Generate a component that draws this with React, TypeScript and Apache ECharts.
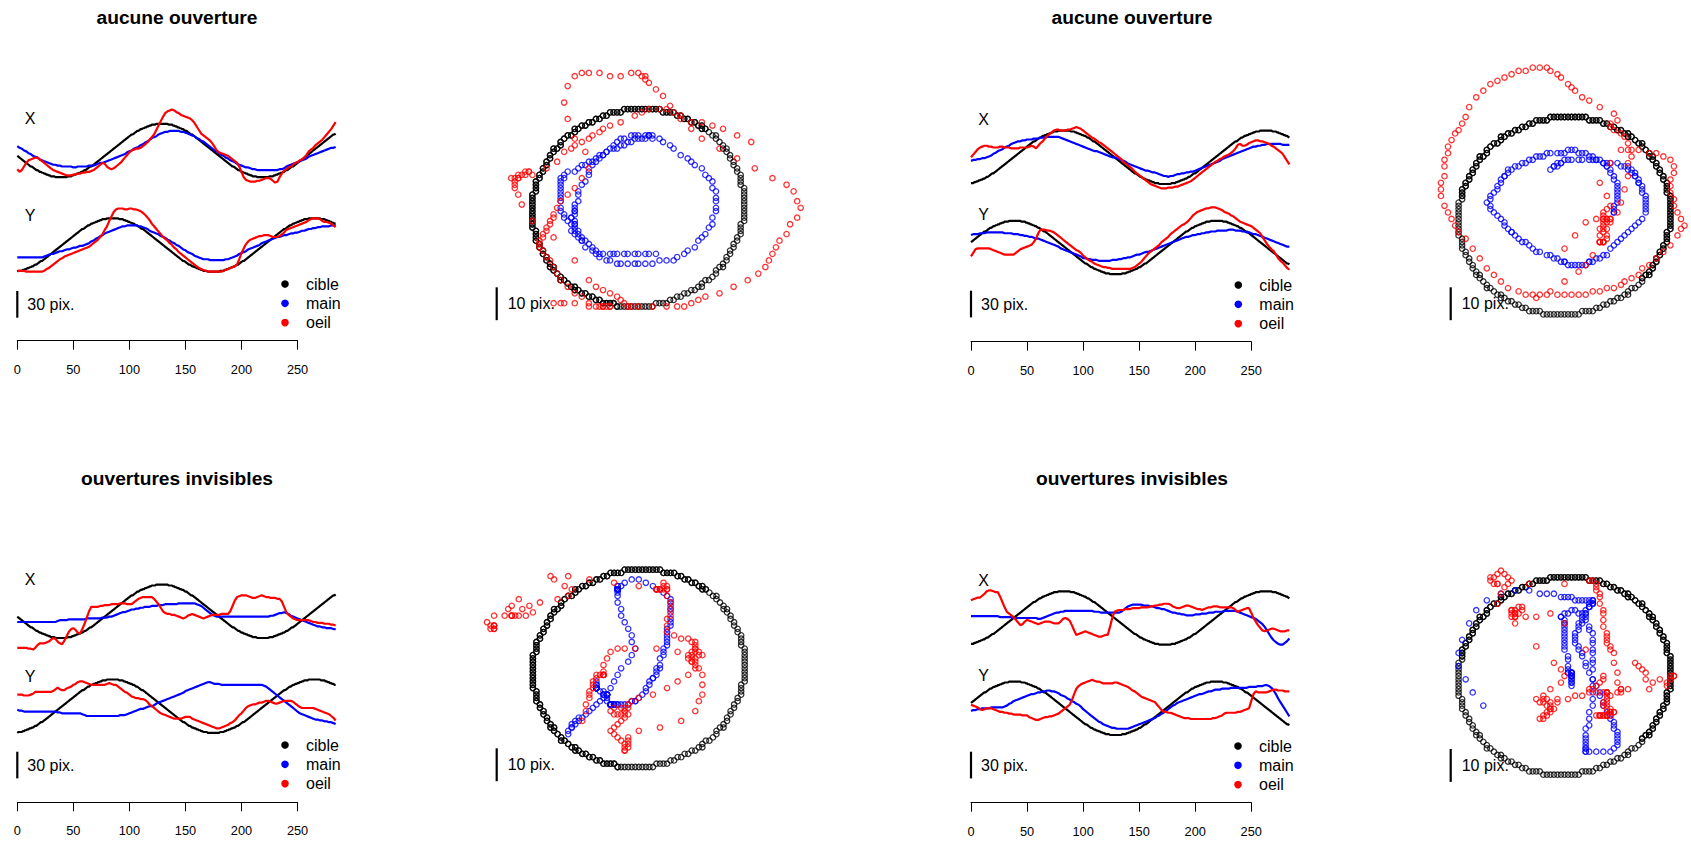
import React, { useEffect, useRef } from "react";
import * as echarts from "echarts";

// ---------- data (positions in screen pixels, "pix.") ----------

// even frame indices (hand and eye samples, target even frames)
const FRAMES = [
  0, 2, 4, 6, 8, 10, 12, 14, 16, 18,
  20, 22, 24, 26, 28, 30, 32, 34, 36, 38,
  40, 42, 44, 46, 48, 50, 52, 54, 56, 58,
  60, 62, 64, 66, 68, 70, 72, 74, 76, 78,
  80, 82, 84, 86, 88, 90, 92, 94, 96, 98,
  100, 102, 104, 106, 108, 110, 112, 114, 116, 118,
  120, 122, 124, 126, 128, 130, 132, 134, 136, 138,
  140, 142, 144, 146, 148, 150, 152, 154, 156, 158,
  160, 162, 164, 166, 168, 170, 172, 174, 176, 178,
  180, 182, 184, 186, 188, 190, 192, 194, 196, 198,
  200, 202, 204, 206, 208, 210, 212, 214, 216, 218,
  220, 222, 224, 226, 228, 230, 232, 234, 236, 238,
  240, 242, 244, 246, 248, 250, 252, 254, 256, 258,
  260, 262, 264, 266, 268, 270, 272, 274, 276, 278,
  280, 282, 284,
];

// odd frame indices (target only)
const ODD_FRAMES = [
  1, 3, 5, 7, 9, 11, 13, 15, 17, 19,
  21, 23, 25, 27, 29, 31, 33, 35, 37, 39,
  41, 43, 45, 47, 49, 51, 53, 55, 57, 59,
  61, 63, 65, 67, 69, 71, 73, 75, 77, 79,
  81, 83, 85, 87, 89, 91, 93, 95, 97, 99,
  101, 103, 105, 107, 109, 111, 113, 115, 117, 119,
  121, 123, 125, 127, 129, 131, 133, 135, 137, 139,
  141, 143, 145, 147, 149, 151, 153, 155, 157, 159,
  161, 163, 165, 167, 169, 171, 173, 175, 177, 179,
  181, 183, 185, 187, 189, 191, 193, 195, 197, 199,
  201, 203, 205, 207, 209, 211, 213, 215, 217, 219,
  221, 223, 225, 227, 229, 231, 233, 235, 237, 239,
  241, 243, 245, 247, 249, 251, 253, 255, 257, 259,
  261, 263, 265, 267, 269, 271, 273, 275, 277, 279,
  281, 283,
];

// target ("cible"), left column sessions
const CIBLE_A_X = [
  -6, -8, -10, -12, -14, -16, -18, -19, -21, -22,
  -24, -25, -26, -27, -28, -29, -29, -30, -30, -30,
  -30, -30, -30, -29, -29, -28, -27, -26, -25, -24,
  -22, -21, -19, -18, -16, -14, -12, -10, -8, -6,
  -4, -2, 0, 2, 4, 6, 8, 10, 12, 14,
  16, 18, 19, 21, 22, 24, 25, 26, 27, 28,
  29, 29, 30, 30, 30, 30, 30, 30, 29, 29,
  28, 27, 26, 25, 24, 22, 21, 19, 18, 16,
  14, 12, 10, 8, 6, 4, 2, 0, -2, -4,
  -6, -8, -10, -12, -14, -16, -18, -19, -21, -22,
  -24, -25, -26, -27, -28, -29, -29, -30, -30, -30,
  -30, -30, -30, -29, -29, -28, -27, -26, -25, -24,
  -22, -21, -19, -18, -16, -14, -12, -10, -8, -6,
  -4, -2, 0, 2, 4, 6, 8, 10, 12, 14,
  16, 18, 19,
];
const CIBLE_A_X_ODD = [
  -7, -9, -11, -13, -15, -17, -18, -20, -22, -23,
  -24, -25, -26, -27, -28, -29, -29, -30, -30, -30,
  -30, -30, -29, -29, -28, -27, -26, -25, -24, -23,
  -22, -20, -18, -17, -15, -13, -11, -9, -7, -5,
  -3, -1, 1, 3, 5, 7, 9, 11, 13, 15,
  17, 18, 20, 22, 23, 24, 25, 26, 27, 28,
  29, 29, 30, 30, 30, 30, 30, 29, 29, 28,
  27, 26, 25, 24, 23, 22, 20, 18, 17, 15,
  13, 11, 9, 7, 5, 3, 1, -1, -3, -5,
  -7, -9, -11, -13, -15, -17, -18, -20, -22, -23,
  -24, -25, -26, -27, -28, -29, -29, -30, -30, -30,
  -30, -30, -29, -29, -28, -27, -26, -25, -24, -23,
  -22, -20, -18, -17, -15, -13, -11, -9, -7, -5,
  -3, -1, 1, 3, 5, 7, 9, 11, 13, 15,
  17, 18,
];
const CIBLE_A_Y = [
  -30, -29, -29, -28, -27, -26, -25, -24, -22, -21,
  -19, -18, -16, -14, -12, -10, -8, -6, -4, -2,
  0, 2, 4, 6, 8, 10, 12, 14, 16, 18,
  19, 21, 22, 24, 25, 26, 27, 28, 29, 29,
  30, 30, 30, 30, 30, 30, 29, 29, 28, 27,
  26, 25, 24, 22, 21, 19, 18, 16, 14, 12,
  10, 8, 6, 4, 2, 0, -2, -4, -6, -8,
  -10, -12, -14, -16, -18, -19, -21, -22, -24, -25,
  -26, -27, -28, -29, -29, -30, -30, -30, -30, -30,
  -30, -29, -29, -28, -27, -26, -25, -24, -22, -21,
  -19, -18, -16, -14, -12, -10, -8, -6, -4, -2,
  0, 2, 4, 6, 8, 10, 12, 14, 16, 18,
  19, 21, 22, 24, 25, 26, 27, 28, 29, 29,
  30, 30, 30, 30, 30, 30, 29, 29, 28, 27,
  26, 25, 24,
];
const CIBLE_A_Y_ODD = [
  -29, -29, -28, -27, -26, -25, -24, -23, -22, -20,
  -18, -17, -15, -13, -11, -9, -7, -5, -3, -1,
  1, 3, 5, 7, 9, 11, 13, 15, 17, 18,
  20, 22, 23, 24, 25, 26, 27, 28, 29, 29,
  30, 30, 30, 30, 30, 29, 29, 28, 27, 26,
  25, 24, 23, 22, 20, 18, 17, 15, 13, 11,
  9, 7, 5, 3, 1, -1, -3, -5, -7, -9,
  -11, -13, -15, -17, -18, -20, -22, -23, -24, -25,
  -26, -27, -28, -29, -29, -30, -30, -30, -30, -30,
  -29, -29, -28, -27, -26, -25, -24, -23, -22, -20,
  -18, -17, -15, -13, -11, -9, -7, -5, -3, -1,
  1, 3, 5, 7, 9, 11, 13, 15, 17, 18,
  20, 22, 23, 24, 25, 26, 27, 28, 29, 29,
  30, 30, 30, 30, 30, 29, 29, 28, 27, 26,
  25, 24,
];

// target ("cible"), right column sessions
const CIBLE_B_X = [
  -29, -29, -28, -27, -26, -25, -24, -22, -21, -19,
  -18, -16, -14, -12, -10, -8, -6, -4, -2, 0,
  2, 4, 6, 8, 10, 12, 14, 16, 18, 19,
  21, 22, 24, 25, 26, 27, 28, 29, 29, 30,
  30, 30, 30, 30, 30, 29, 29, 28, 27, 26,
  25, 24, 22, 21, 19, 18, 16, 14, 12, 10,
  8, 6, 4, 2, 0, -2, -4, -6, -8, -10,
  -12, -14, -16, -18, -19, -21, -22, -24, -25, -26,
  -27, -28, -29, -29, -30, -30, -30, -30, -30, -30,
  -29, -29, -28, -27, -26, -25, -24, -22, -21, -19,
  -18, -16, -14, -12, -10, -8, -6, -4, -2, 0,
  2, 4, 6, 8, 10, 12, 14, 16, 18, 19,
  21, 22, 24, 25, 26, 27, 28, 29, 29, 30,
  30, 30, 30, 30, 30, 29, 29, 28, 27, 26,
  25, 24, 22,
];
const CIBLE_B_X_ODD = [
  -29, -28, -27, -26, -25, -24, -23, -22, -20, -18,
  -17, -15, -13, -11, -9, -7, -5, -3, -1, 1,
  3, 5, 7, 9, 11, 13, 15, 17, 18, 20,
  22, 23, 24, 25, 26, 27, 28, 29, 29, 30,
  30, 30, 30, 30, 29, 29, 28, 27, 26, 25,
  24, 23, 22, 20, 18, 17, 15, 13, 11, 9,
  7, 5, 3, 1, -1, -3, -5, -7, -9, -11,
  -13, -15, -17, -18, -20, -22, -23, -24, -25, -26,
  -27, -28, -29, -29, -30, -30, -30, -30, -30, -29,
  -29, -28, -27, -26, -25, -24, -23, -22, -20, -18,
  -17, -15, -13, -11, -9, -7, -5, -3, -1, 1,
  3, 5, 7, 9, 11, 13, 15, 17, 18, 20,
  22, 23, 24, 25, 26, 27, 28, 29, 29, 30,
  30, 30, 30, 30, 29, 29, 28, 27, 26, 25,
  24, 23,
];
const CIBLE_B_Y = [
  6, 8, 10, 12, 14, 16, 18, 19, 21, 22,
  24, 25, 26, 27, 28, 29, 29, 30, 30, 30,
  30, 30, 30, 29, 29, 28, 27, 26, 25, 24,
  22, 21, 19, 18, 16, 14, 12, 10, 8, 6,
  4, 2, 0, -2, -4, -6, -8, -10, -12, -14,
  -16, -18, -19, -21, -22, -24, -25, -26, -27, -28,
  -29, -29, -30, -30, -30, -30, -30, -30, -29, -29,
  -28, -27, -26, -25, -24, -22, -21, -19, -18, -16,
  -14, -12, -10, -8, -6, -4, -2, 0, 2, 4,
  6, 8, 10, 12, 14, 16, 18, 19, 21, 22,
  24, 25, 26, 27, 28, 29, 29, 30, 30, 30,
  30, 30, 30, 29, 29, 28, 27, 26, 25, 24,
  22, 21, 19, 18, 16, 14, 12, 10, 8, 6,
  4, 2, 0, -2, -4, -6, -8, -10, -12, -14,
  -16, -18, -19,
];
const CIBLE_B_Y_ODD = [
  7, 9, 11, 13, 15, 17, 18, 20, 22, 23,
  24, 25, 26, 27, 28, 29, 29, 30, 30, 30,
  30, 30, 29, 29, 28, 27, 26, 25, 24, 23,
  22, 20, 18, 17, 15, 13, 11, 9, 7, 5,
  3, 1, -1, -3, -5, -7, -9, -11, -13, -15,
  -17, -18, -20, -22, -23, -24, -25, -26, -27, -28,
  -29, -29, -30, -30, -30, -30, -30, -29, -29, -28,
  -27, -26, -25, -24, -23, -22, -20, -18, -17, -15,
  -13, -11, -9, -7, -5, -3, -1, 1, 3, 5,
  7, 9, 11, 13, 15, 17, 18, 20, 22, 23,
  24, 25, 26, 27, 28, 29, 29, 30, 30, 30,
  30, 30, 29, 29, 28, 27, 26, 25, 24, 23,
  22, 20, 18, 17, 15, 13, 11, 9, 7, 5,
  3, 1, -1, -3, -5, -7, -9, -11, -13, -15,
  -17, -18,
];

// session 1: aucune ouverture (left)
const S1_MAIN_X = [
  5, 3, 2, 0, -1, -3, -4, -6, -7, -8,
  -10, -11, -12, -13, -14, -15, -16, -16, -17, -17,
  -18, -18, -18, -18, -18, -19, -19, -18, -18, -18,
  -18, -18, -17, -17, -17, -16, -15, -14, -14, -13,
  -12, -11, -10, -9, -8, -7, -6, -5, -4, -2,
  -1, 0, 2, 3, 4, 6, 7, 9, 10, 12,
  14, 15, 16, 18, 19, 20, 21, 21, 22, 22,
  22, 22, 22, 21, 21, 20, 19, 18, 17, 16,
  14, 13, 11, 10, 8, 6, 4, 2, 0, -1,
  -3, -5, -6, -8, -9, -11, -12, -13, -15, -16,
  -17, -18, -19, -19, -20, -21, -21, -22, -22, -22,
  -22, -22, -22, -22, -22, -22, -22, -21, -21, -20,
  -18, -17, -16, -15, -14, -13, -12, -11, -10, -9,
  -7, -6, -5, -4, -3, -2, -1, 0, 1, 2,
  3, 3, 4,
];
const S1_MAIN_Y = [
  -14, -14, -14, -14, -14, -14, -14, -14, -14, -14,
  -14, -14, -13, -12, -11, -10, -10, -9, -8, -7,
  -7, -6, -5, -5, -4, -3, -3, -2, -1, -1,
  0, 1, 2, 4, 5, 7, 8, 10, 11, 13,
  14, 15, 16, 17, 18, 19, 20, 21, 21, 22,
  22, 22, 22, 22, 21, 21, 20, 19, 18, 16,
  15, 14, 13, 12, 10, 9, 8, 6, 5, 3,
  2, 0, -1, -3, -5, -6, -8, -9, -10, -12,
  -13, -14, -15, -16, -16, -16, -17, -17, -17, -17,
  -17, -17, -17, -16, -16, -15, -14, -13, -12, -10,
  -9, -8, -7, -5, -4, -3, -2, -1, 0, 2,
  3, 4, 5, 6, 7, 8, 9, 9, 10, 11,
  11, 12, 13, 13, 14, 14, 15, 16, 16, 17,
  18, 18, 19, 19, 20, 20, 21, 21, 21, 21,
  22, 22, 22,
];
const S1_OEIL_X = [
  -21, -24, -22, -18, -14, -11, -10, -9, -8, -8,
  -10, -12, -14, -16, -18, -20, -22, -23, -24, -25,
  -26, -27, -28, -28, -28, -27, -27, -26, -26, -25,
  -25, -24, -24, -23, -22, -20, -18, -16, -14, -15,
  -18, -20, -21, -20, -18, -16, -14, -11, -8, -5,
  -2, 0, 1, 2, 2, 3, 5, 7, 9, 12,
  15, 18, 23, 28, 33, 38, 42, 44, 45, 46,
  45, 43, 42, 40, 39, 38, 37, 36, 34, 31,
  27, 23, 19, 17, 15, 13, 11, 8, 4, 0,
  -2, -3, -4, -5, -6, -8, -10, -12, -14, -18,
  -24, -30, -33, -34, -35, -35, -35, -34, -34, -33,
  -32, -31, -31, -32, -34, -36, -35, -30, -26, -23,
  -21, -19, -18, -16, -14, -13, -11, -10, -8, -5,
  -1, 1, 3, 6, 8, 10, 12, 15, 18, 21,
  24, 28, 32,
];
const S1_OEIL_Y = [
  -29, -29, -29, -29, -30, -30, -30, -30, -30, -30,
  -30, -30, -29, -27, -26, -24, -22, -20, -18, -16,
  -15, -13, -12, -11, -10, -9, -8, -7, -6, -5,
  -4, -3, -2, 0, 2, 4, 6, 9, 12, 17,
  21, 27, 32, 37, 40, 41, 41, 41, 40, 40,
  41, 41, 40, 40, 39, 38, 36, 34, 31, 28,
  24, 21, 18, 15, 12, 9, 7, 5, 2, 0,
  -3, -5, -8, -10, -12, -14, -16, -18, -20, -22,
  -24, -26, -27, -28, -29, -30, -30, -30, -30, -30,
  -30, -30, -29, -28, -27, -26, -25, -24, -22, -16,
  -9, -4, 1, 4, 6, 7, 8, 9, 10, 10,
  11, 11, 11, 10, 9, 9, 9, 10, 12, 14,
  17, 18, 19, 20, 21, 22, 23, 24, 25, 26,
  28, 29, 30, 30, 30, 29, 27, 26, 26, 25,
  24, 22, 20,
];

// session 2: aucune ouverture (right)
const S2_MAIN_X = [
  -4, -3, -3, -2, -2, -1, -1, 0, 1, 2,
  4, 5, 7, 8, 9, 11, 12, 13, 15, 16,
  17, 18, 18, 19, 19, 20, 20, 20, 21, 21,
  21, 22, 22, 22, 23, 23, 23, 23, 23, 23,
  22, 21, 20, 19, 18, 17, 16, 15, 14, 13,
  12, 11, 10, 9, 8, 7, 7, 6, 5, 4,
  3, 2, 1, 0, 0, -1, -2, -3, -4, -5,
  -7, -8, -9, -10, -11, -12, -13, -14, -15, -15,
  -16, -17, -17, -18, -19, -20, -21, -21, -22, -21,
  -21, -20, -19, -19, -18, -18, -17, -17, -16, -16,
  -15, -14, -13, -12, -11, -10, -9, -8, -7, -6,
  -5, -4, -2, -1, 0, 1, 2, 3, 4, 5,
  6, 7, 8, 9, 10, 11, 12, 12, 13, 13,
  14, 14, 15, 15, 15, 15, 15, 15, 15, 14,
  14, 14, 14,
];
const S2_MAIN_Y = [
  14, 15, 15, 15, 16, 16, 16, 17, 17, 17,
  17, 17, 17, 17, 17, 16, 16, 16, 16, 15,
  15, 15, 14, 14, 13, 13, 12, 12, 11, 10,
  10, 9, 8, 7, 6, 5, 4, 3, 2, 1,
  -1, -2, -3, -4, -5, -6, -7, -8, -9, -10,
  -12, -12, -13, -13, -14, -14, -14, -15, -15, -15,
  -15, -15, -15, -14, -14, -14, -13, -13, -12, -12,
  -11, -11, -10, -9, -8, -8, -7, -6, -5, -5,
  -4, -3, -2, -1, 0, 1, 2, 3, 4, 5,
  6, 7, 8, 9, 10, 11, 12, 12, 13, 14,
  14, 15, 15, 16, 16, 17, 17, 18, 18, 18,
  19, 19, 19, 19, 19, 20, 20, 20, 19, 19,
  19, 18, 18, 17, 17, 16, 15, 15, 14, 13,
  12, 11, 10, 9, 8, 7, 6, 5, 4, 3,
  2, 1, 1,
];
const S2_OEIL_X = [
  0, 3, 6, 9, 11, 12, 13, 13, 12, 12,
  11, 11, 11, 12, 12, 11, 11, 11, 10, 10,
  10, 10, 11, 11, 11, 11, 12, 13, 12, 10,
  13, 16, 18, 21, 24, 26, 28, 30, 31, 31,
  30, 30, 30, 31, 31, 32, 33, 34, 33, 32,
  30, 28, 26, 24, 22, 21, 19, 17, 16, 14,
  12, 10, 8, 6, 4, 2, 0, -2, -5, -7,
  -9, -11, -13, -16, -18, -20, -22, -24, -26, -28,
  -30, -31, -32, -33, -34, -35, -35, -35, -34, -34,
  -34, -33, -33, -32, -31, -30, -29, -28, -27, -25,
  -23, -21, -19, -17, -15, -13, -11, -9, -7, -5,
  -4, -2, -1, 1, 2, 3, 5, 7, 10, 14,
  15, 13, 13, 14, 16, 17, 18, 19, 19, 18,
  18, 17, 16, 15, 13, 12, 10, 8, 6, 4,
  0, -4, -8,
];
const S2_OEIL_Y = [
  -10, -6, -2, -1, -1, -1, -1, -1, -1, -2,
  -3, -4, -5, -6, -7, -8, -8, -8, -8, -8,
  -6, -4, -2, -1, 0, 1, 2, 3, 6, 10,
  16, 20, 20, 20, 19, 19, 18, 17, 15, 13,
  11, 9, 7, 5, 3, 1, -1, -3, -4, -6,
  -9, -11, -13, -15, -16, -18, -19, -20, -21, -22,
  -22, -23, -23, -24, -24, -24, -24, -24, -24, -24,
  -24, -24, -23, -22, -20, -18, -16, -13, -10, -7,
  -5, -3, -1, 1, 3, 6, 8, 10, 12, 15,
  17, 19, 21, 23, 25, 26, 28, 30, 33, 36,
  38, 40, 41, 42, 43, 44, 44, 45, 45, 45,
  44, 43, 42, 40, 39, 38, 36, 35, 33, 31,
  29, 28, 27, 26, 25, 24, 22, 20, 18, 16,
  12, 8, 4, 1, -2, -4, -8, -12, -15, -17,
  -20, -23, -25,
];

// session 3: ouvertures invisibles (left)
const S3_MAIN_X = [
  -12, -12, -12, -12, -12, -12, -12, -12, -12, -12,
  -12, -12, -12, -12, -12, -12, -12, -12, -11, -10,
  -10, -10, -10, -9, -9, -9, -9, -9, -9, -9,
  -9, -8, -8, -8, -8, -8, -8, -8, -7, -7,
  -7, -6, -6, -5, -4, -3, -2, -1, -1, 0,
  1, 2, 2, 3, 3, 4, 4, 5, 5, 5,
  6, 6, 6, 7, 7, 7, 8, 8, 8, 8,
  8, 8, 9, 9, 9, 9, 9, 9, 9, 9,
  8, 7, 6, 4, 2, 0, -2, -4, -5, -6,
  -6, -6, -6, -6, -6, -6, -6, -6, -6, -6,
  -6, -6, -6, -6, -6, -6, -6, -6, -6, -6,
  -6, -6, -6, -5, -5, -4, -3, -2, -2, -1,
  -2, -3, -5, -6, -7, -8, -9, -10, -11, -12,
  -13, -14, -15, -16, -17, -17, -18, -18, -19, -19,
  -19, -20, -20,
];
const S3_MAIN_Y = [
  -4, -5, -5, -6, -6, -6, -6, -6, -6, -6,
  -6, -6, -6, -6, -6, -6, -6, -6, -7, -7,
  -8, -8, -8, -8, -8, -8, -8, -8, -8, -9,
  -10, -11, -11, -11, -11, -11, -11, -11, -11, -11,
  -11, -11, -11, -11, -11, -11, -10, -10, -10, -9,
  -8, -7, -6, -5, -4, -3, -3, -2, -1, 0,
  0, 1, 3, 4, 5, 6, 7, 8, 9, 10,
  11, 12, 13, 14, 15, 17, 18, 19, 20, 21,
  22, 23, 24, 25, 26, 27, 27, 26, 25, 25,
  25, 24, 24, 24, 24, 24, 24, 24, 24, 24,
  24, 24, 24, 24, 24, 24, 24, 24, 24, 24,
  23, 22, 20, 18, 16, 14, 12, 10, 8, 6,
  4, 2, 0, -2, -4, -6, -8, -9, -10, -11,
  -12, -13, -14, -15, -15, -16, -16, -17, -17, -18,
  -18, -19, -20,
];
const S3_OEIL_X = [
  -41, -41, -41, -41, -41, -42, -42, -43, -41, -38,
  -36, -36, -36, -35, -34, -32, -30, -31, -34, -36,
  -37, -33, -28, -23, -20, -19, -21, -24, -25, -20,
  -14, -7, 0, 5, 5, 5, 5, 6, 6, 7,
  7, 7, 8, 8, 8, 8, 9, 9, 9, 8,
  8, 8, 10, 12, 14, 15, 16, 16, 16, 16,
  16, 14, 11, 8, 4, 0, -2, -3, -3, -4,
  -4, -5, -6, -7, -8, -7, -5, -4, -3, -4,
  -5, -6, -7, -8, -7, -6, -5, -4, -4, -4,
  -4, -3, -3, -3, -3, 0, 6, 12, 16, 17,
  18, 18, 18, 17, 16, 15, 15, 16, 17, 18,
  17, 16, 16, 15, 15, 15, 14, 14, 11, 5,
  -1, -4, -6, -8, -9, -10, -10, -10, -10, -10,
  -10, -11, -12, -12, -13, -13, -13, -14, -14, -14,
  -15, -15, -16,
];
const S3_OEIL_Y = [
  13, 13, 13, 12, 12, 12, 13, 14, 16, 16,
  16, 16, 16, 16, 16, 16, 17, 19, 21, 19,
  18, 18, 20, 21, 22, 24, 25, 27, 28, 28,
  27, 26, 25, 24, 24, 24, 24, 24, 24, 24,
  25, 26, 25, 24, 24, 22, 20, 18, 16, 15,
  13, 11, 10, 9, 9, 8, 8, 7, 5, 2,
  0, -2, -4, -6, -8, -9, -10, -11, -12, -13,
  -14, -14, -14, -14, -13, -12, -12, -12, -14, -15,
  -16, -17, -18, -19, -20, -21, -22, -23, -24, -25,
  -25, -24, -23, -22, -21, -19, -18, -16, -13, -10,
  -8, -5, -2, 0, 1, 2, 2, 3, 4, 4,
  5, 6, 6, 5, 4, 3, 3, 4, 5, 6,
  6, 6, 6, 5, 3, 1, -1, -2, -2, -2,
  -2, -2, -2, -3, -4, -5, -6, -7, -8, -9,
  -11, -13, -16,
];

// session 4: ouvertures invisibles (right)
const S4_MAIN_X = [
  2, 2, 2, 2, 2, 2, 2, 2, 2, 2,
  2, 2, 2, 1, 1, 1, 1, 1, 1, 0,
  0, 0, 0, 0, 0, 0, 0, 0, 0, 0,
  -1, -1, 0, 1, 2, 3, 4, 5, 6, 6,
  7, 7, 8, 8, 8, 8, 8, 8, 8, 8,
  8, 8, 8, 8, 8, 7, 7, 7, 6, 6,
  6, 6, 6, 6, 6, 6, 6, 7, 9, 11,
  13, 14, 15, 15, 15, 15, 15, 14, 14, 14,
  13, 13, 12, 11, 11, 10, 10, 9, 8, 7,
  6, 6, 5, 5, 4, 4, 3, 3, 3, 3,
  4, 4, 4, 5, 5, 5, 6, 6, 6, 7,
  7, 7, 7, 8, 8, 8, 8, 8, 8, 7,
  6, 5, 4, 3, 2, 1, 0, -1, -3, -5,
  -7, -10, -14, -18, -22, -25, -27, -29, -30, -30,
  -28, -26, -23,
];
const S4_MAIN_Y = [
  -3, -2, -2, -1, -1, 0, 0, 0, 0, 1,
  1, 1, 1, 1, 1, 2, 3, 5, 6, 8,
  9, 10, 11, 12, 13, 14, 15, 16, 16, 17,
  18, 18, 19, 19, 20, 20, 19, 19, 18, 17,
  15, 14, 13, 11, 10, 8, 7, 5, 4, 2,
  -1, -3, -5, -7, -9, -11, -13, -15, -16, -18,
  -19, -20, -21, -22, -22, -23, -23, -23, -23, -23,
  -23, -22, -21, -20, -19, -18, -17, -16, -15, -14,
  -13, -12, -11, -9, -8, -6, -5, -3, -1, 1,
  3, 4, 6, 7, 8, 9, 10, 11, 12, 13,
  14, 15, 16, 16, 17, 18, 19, 19, 20, 21,
  21, 21, 22, 22, 22, 22, 23, 23, 23, 23,
  23, 23, 23, 23, 24, 24, 24, 24, 25, 25,
  25, 26, 26, 25, 23, 20, 16, 11, 7, 3,
  -1, -5, -9,
];
const S4_OEIL_X = [
  20, 21, 22, 23, 23, 25, 27, 30, 31, 31,
  30, 29, 29, 24, 18, 12, 7, 5, 3, 1,
  -2, -5, -8, -7, -4, -2, -3, -4, -5, -6,
  -7, -6, -5, -4, -4, -4, -5, -6, -6, -6,
  -4, -1, 0, -1, -3, -8, -14, -19, -18, -17,
  -16, -15, -16, -17, -18, -19, -20, -21, -21, -20,
  -19, -19, -10, 0, 7, 8, 9, 9, 9, 10,
  10, 10, 11, 11, 11, 11, 12, 12, 12, 12,
  13, 13, 14, 14, 15, 15, 16, 16, 16, 15,
  13, 12, 11, 11, 12, 13, 14, 14, 13, 12,
  11, 10, 10, 9, 10, 11, 12, 12, 13, 13,
  13, 12, 12, 12, 12, 12, 12, 11, 9, 7,
  8, 9, 10, 11, 11, 6, 0, -4, -8, -11,
  -14, -15, -14, -13, -12, -12, -13, -14, -15, -15,
  -15, -14, -14,
];
const S4_OEIL_Y = [
  4, 3, 2, 1, -1, -2, -1, 0, 0, 0,
  -1, -2, -3, -4, -4, -5, -5, -6, -6, -7,
  -7, -7, -7, -8, -8, -8, -10, -11, -12, -13,
  -13, -12, -11, -10, -10, -9, -9, -8, -7, -6,
  -4, -2, 0, 2, 4, 9, 16, 22, 25, 27,
  28, 29, 30, 31, 32, 31, 30, 30, 29, 28,
  28, 28, 28, 28, 29, 29, 28, 27, 26, 25,
  24, 22, 20, 19, 17, 15, 13, 12, 11, 10,
  9, 8, 7, 4, 1, -2, -4, -4, -5, -5,
  -6, -7, -8, -9, -10, -11, -11, -11, -12, -12,
  -12, -12, -12, -12, -12, -12, -12, -12, -11, -11,
  -10, -9, -8, -6, -5, -5, -5, -5, -5, -4,
  -4, -3, -2, -1, 0, 8, 16, 19, 18, 18,
  18, 18, 18, 19, 20, 21, 21, 20, 20, 20,
  19, 19, 19,
];

const TITLES = ["aucune ouverture", "aucune ouverture", "ouvertures invisibles", "ouvertures invisibles"];
const LEGEND_LABELS = ["cible", "main", "oeil"];
const TIME_AXIS = { min: 0, max: 250, step: 50 };
const TS_SCALE_PIX = 30; // length of the time-series scale bar
const XY_SCALE_PIX = 10; // length of the trajectory scale bar

type Track = { x: number[]; y: number[]; xOdd?: number[]; yOdd?: number[] };

const SESSIONS: Track[][] = [
  [
    { x: CIBLE_A_X, y: CIBLE_A_Y, xOdd: CIBLE_A_X_ODD, yOdd: CIBLE_A_Y_ODD },
    { x: S1_MAIN_X, y: S1_MAIN_Y },
    { x: S1_OEIL_X, y: S1_OEIL_Y },
  ],
  [
    { x: CIBLE_B_X, y: CIBLE_B_Y, xOdd: CIBLE_B_X_ODD, yOdd: CIBLE_B_Y_ODD },
    { x: S2_MAIN_X, y: S2_MAIN_Y },
    { x: S2_OEIL_X, y: S2_OEIL_Y },
  ],
  [
    { x: CIBLE_A_X, y: CIBLE_A_Y, xOdd: CIBLE_A_X_ODD, yOdd: CIBLE_A_Y_ODD },
    { x: S3_MAIN_X, y: S3_MAIN_Y },
    { x: S3_OEIL_X, y: S3_OEIL_Y },
  ],
  [
    { x: CIBLE_B_X, y: CIBLE_B_Y, xOdd: CIBLE_B_X_ODD, yOdd: CIBLE_B_Y_ODD },
    { x: S4_MAIN_X, y: S4_MAIN_Y },
    { x: S4_OEIL_X, y: S4_OEIL_Y },
  ],
];

// ---------- layout ----------
const FONT = '"Liberation Sans", Arial, Helvetica, sans-serif';
const COLORS = ["#000000", "#0000ff", "#ff0000"];
const PX_T = 1.121; // px per frame
const PX_V = 0.89; // px per pix in the time plots
const SX = 3.53; // px per pix, trajectory x
const SY = 3.29; // px per pix, trajectory y
const T_END = 284;
const TS_X_HALF = 70;
const TS_Y_HALF = 90;
const SC_HALF = 50;

const LAYOUT = [
  { t0: 17.3, titleX: 177, titleY: 17, xMid: 150.5, yMid: 245, xLabY: 118, yLabY: 215, axisY: 340.7,
    legX: 285, legY: 284, tsBarTop: 291, cx: 638.3, cy: 207.8, scBarX: 496.7, scBarTop: 287.3, scMaxX: 50 },
  { t0: 971, titleX: 1132, titleY: 17, xMid: 157.3, yMid: 247.5, xLabY: 119, yLabY: 214, axisY: 341.7,
    legX: 1238.3, legY: 285, tsBarTop: 290.7, cx: 1564.5, cy: 215.7, scBarX: 1450.7, scBarTop: 287.3, scMaxX: 35 },
  { t0: 17.3, titleX: 177, titleY: 478.3, xMid: 611.3, yMid: 706.2, xLabY: 579.3, yLabY: 676, axisY: 802.3,
    legX: 285, legY: 745, tsBarTop: 751.7, cx: 638.8, cy: 668.3, scBarX: 496.7, scBarTop: 748.3, scMaxX: 50 },
  { t0: 971, titleX: 1132, titleY: 478.8, xMid: 618, yMid: 708.3, xLabY: 580, yLabY: 675.7, axisY: 802.7,
    legX: 1238, legY: 746, tsBarTop: 751.7, cx: 1564.5, cy: 676, scBarX: 1450.7, scBarTop: 749, scMaxX: 35 },
];

function hiddenAxis(gi: number, min: number, max: number) {
  return { type: "value", gridIndex: gi, min, max, show: false, splitLine: { show: false } };
}

// time samples of one coordinate, even and (when present) odd frames, in frame order
function timeSeries(even: number[], odd?: number[]) {
  const pts = FRAMES.map((t, i) => [t, even[i]]);
  if (odd) ODD_FRAMES.forEach((t, i) => pts.push([t, odd[i]]));
  return pts.sort((a, b) => a[0] - b[0]);
}

function trajectory(tr: Track) {
  const pts = FRAMES.map((_, i) => [tr.x[i], tr.y[i]]);
  if (tr.xOdd && tr.yOdd) {
    const xo = tr.xOdd;
    const yo = tr.yOdd;
    ODD_FRAMES.forEach((_, i) => pts.push([xo[i], yo[i]]));
  }
  return pts;
}

function lineSeries(gi: number, data: number[][], color: string) {
  return {
    type: "line",
    xAxisIndex: gi,
    yAxisIndex: gi,
    data,
    showSymbol: false,
    symbol: "none",
    lineStyle: { color, width: 2.2 },
    itemStyle: { color },
    silent: true,
    clip: false,
  };
}

function scatterSeries(gi: number, data: number[][], color: string) {
  return {
    type: "scatter",
    xAxisIndex: gi,
    yAxisIndex: gi,
    data,
    symbol: "circle",
    symbolSize: 5.4,
    itemStyle: { color: "rgba(0,0,0,0)", borderColor: color, borderWidth: 1.3 },
    silent: true,
    clip: false,
  };
}

function scaleBar(gi: number, x: number, top: number, len: number) {
  return {
    type: "line",
    xAxisIndex: gi,
    yAxisIndex: gi,
    data: [[x, top], [x, top - len]],
    symbol: "none",
    lineStyle: { color: "#000", width: 2.2 },
    silent: true,
    clip: false,
  };
}

function text(x: number, y: number, str: string, font: string, align = "left") {
  return {
    type: "text",
    x,
    y,
    silent: true,
    style: { text: str, font, fill: "#000", textAlign: align, textVerticalAlign: "middle" },
  };
}

function buildOption() {
  const grid: any[] = [];
  const xAxis: any[] = [];
  const yAxis: any[] = [];
  const series: any[] = [];
  const graphic: any[] = [];
  const gridBase = { containLabel: false, outerBoundsMode: "none", show: false };

  LAYOUT.forEach((L, p) => {
    const tracks = SESSIONS[p];
    const g = grid.length;

    // X time plot
    grid.push({ ...gridBase, left: L.t0, top: L.xMid - TS_X_HALF * PX_V, width: T_END * PX_T, height: 2 * TS_X_HALF * PX_V });
    xAxis.push(hiddenAxis(g, 0, T_END));
    yAxis.push(hiddenAxis(g, -TS_X_HALF, TS_X_HALF));
    // Y time plot
    grid.push({ ...gridBase, left: L.t0, top: L.yMid - TS_Y_HALF * PX_V, width: T_END * PX_T, height: 2 * TS_Y_HALF * PX_V });
    xAxis.push(hiddenAxis(g + 1, 0, T_END));
    yAxis.push(hiddenAxis(g + 1, -TS_Y_HALF, TS_Y_HALF));
    // frame axis
    grid.push({ ...gridBase, left: L.t0, top: L.axisY - 10, width: (TIME_AXIS.max - TIME_AXIS.min) * PX_T, height: 10 });
    xAxis.push({
      type: "value",
      gridIndex: g + 2,
      min: TIME_AXIS.min,
      max: TIME_AXIS.max,
      interval: TIME_AXIS.step,
      position: "bottom",
      axisLine: { show: true, onZero: false, lineStyle: { color: "#000", width: 1 } },
      axisTick: { show: true, length: 9, lineStyle: { color: "#000", width: 1 } },
      axisLabel: { show: true, color: "#000", fontSize: 12.8, fontFamily: FONT, margin: 22 },
      splitLine: { show: false },
    });
    yAxis.push(hiddenAxis(g + 2, 0, 1));
    // trajectory
    grid.push({
      ...gridBase,
      left: L.cx - SC_HALF * SX,
      top: L.cy - SC_HALF * SY,
      width: (SC_HALF + L.scMaxX) * SX,
      height: 2 * SC_HALF * SY,
    });
    xAxis.push(hiddenAxis(g + 3, -SC_HALF, L.scMaxX));
    yAxis.push(hiddenAxis(g + 3, -SC_HALF, SC_HALF));

    tracks.forEach((tr, j) => series.push(lineSeries(g, timeSeries(tr.x, tr.xOdd), COLORS[j])));
    tracks.forEach((tr, j) => series.push(lineSeries(g + 1, timeSeries(tr.y, tr.yOdd), COLORS[j])));
    series.push(scaleBar(g + 1, 0, (L.yMid - L.tsBarTop) / PX_V, TS_SCALE_PIX));
    tracks.forEach((tr, j) => series.push(scatterSeries(g + 3, trajectory(tr), COLORS[j])));
    series.push(scaleBar(g + 3, (L.scBarX - L.cx) / SX, (L.cy - L.scBarTop) / SY, XY_SCALE_PIX));

    // texts
    graphic.push(text(L.titleX, L.titleY, TITLES[p], `bold 19.2px ${FONT}`, "center"));
    graphic.push(text(L.t0 + 12.7, L.xLabY, "X", `16px ${FONT}`, "center"));
    graphic.push(text(L.t0 + 12.7, L.yLabY, "Y", `16px ${FONT}`, "center"));
    graphic.push(text(L.t0 + 10, L.tsBarTop + (TS_SCALE_PIX * PX_V) / 2, `${TS_SCALE_PIX} pix.`, `16px ${FONT}`));
    graphic.push(text(L.scBarX + 11, L.scBarTop + 16, `${XY_SCALE_PIX} pix.`, `16px ${FONT}`));
    LEGEND_LABELS.forEach((lab, j) => {
      const y = L.legY + j * 19.3;
      graphic.push({ type: "circle", silent: true, shape: { cx: L.legX, cy: y, r: 3.8 }, style: { fill: COLORS[j] } });
      graphic.push(text(L.legX + 21, y, lab, `16px ${FONT}`));
    });
  });

  return {
    animation: false,
    backgroundColor: "#ffffff",
    grid,
    xAxis,
    yAxis,
    series,
    graphic,
  };
}

export default function App() {
  const ref = useRef<HTMLDivElement>(null);
  useEffect(() => {
    if (!ref.current) return;
    const chart = echarts.init(ref.current, undefined, { renderer: "svg" });
    chart.setOption(buildOption() as any);
    return () => chart.dispose();
  }, []);
  return (
    <div
      ref={ref}
      style={{ position: "fixed", left: 0, top: 0, width: 1691, height: 843, background: "#fff" }}
    />
  );
}
